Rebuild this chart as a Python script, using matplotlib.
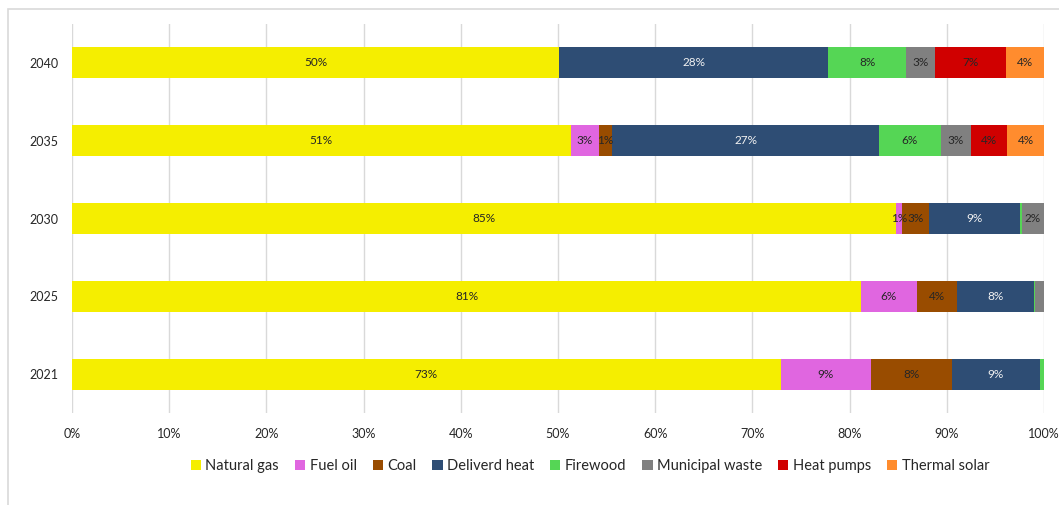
import matplotlib
matplotlib.use("Agg")
import matplotlib.pyplot as plt
from matplotlib.patches import Patch, Rectangle
import numpy as np

plt.rcParams['font.family'] = ['Lato', 'DejaVu Sans']

years = ["2021", "2025", "2030", "2035", "2040"]
series = ["Natural gas", "Fuel oil", "Coal", "Deliverd heat", "Firewood",
          "Municipal waste", "Heat pumps", "Thermal solar"]
colors = ["#F5EE00", "#E066E0", "#994C00", "#2E4D74", "#55D655",
          "#808080", "#D00000", "#FF8C2E"]

# shares in % per year (2021, 2025, 2030, 2035, 2040)
natural_gas = [72.9, 81.2, 84.8, 51.3, 50.1]
fuel_oil = [9.3, 5.7, 0.6, 2.9, 0.0]
coal = [8.3, 4.2, 2.8, 1.4, 0.0]
delivered_heat = [9.1, 7.9, 9.3, 27.4, 27.7]
firewood = [0.4, 0.1, 0.2, 6.4, 8.0]
municipal_waste = [0.0, 0.9, 2.3, 3.1, 3.0]
heat_pumps = [0.0, 0.0, 0.0, 3.7, 7.3]
thermal_solar = [0.0, 0.0, 0.0, 3.8, 3.9]

data = [natural_gas, fuel_oil, coal, delivered_heat, firewood,
        municipal_waste, heat_pumps, thermal_solar]
# labels not shown in the reference
hidden = {("2025", "Municipal waste")}

fig = plt.figure(figsize=(10.59, 5.05), dpi=100)
ax = fig.add_axes([72/1059, (505-413)/505, (1044-72)/1059, (413-24)/505])

y = np.arange(len(years))
left = np.zeros(len(years))
for name, vals, col in zip(series, data, colors):
    vals = np.array(vals, dtype=float)
    ax.barh(y, vals, left=left, height=0.4, color=col, label=name, zorder=3)
    for i, v in enumerate(vals):
        if v >= 0.5 and (years[i], name) not in hidden:
            tc = "#F2F2F2" if name == "Deliverd heat" else "#262626"
            ax.text(left[i] + v / 2, y[i], f"{v:.0f}%", ha="center", va="center",
                    fontsize=8.5, color=tc, zorder=4)
    left += vals

ax.set_xlim(0, 100)
ax.set_ylim(-0.5, 4.5)
ax.set_yticks(y)
ax.set_yticklabels(years, fontsize=9, color="#262626")
ax.set_xticks(np.arange(0, 101, 10))
ax.set_xticklabels([f"{t}%" for t in range(0, 101, 10)], fontsize=9, color="#262626")
ax.tick_params(length=0, pad=10)
ax.tick_params(axis="x", pad=11)
ax.grid(axis="x", color="#D9D9D9", linewidth=1, zorder=0)
for s in ax.spines.values():
    s.set_visible(False)

handles = [Patch(facecolor=c, label=n) for n, c in zip(series, colors)]
fig.legend(handles=handles, loc="center", bbox_to_anchor=(590/1059, 1 - 466/505),
           ncol=8, frameon=False, fontsize=10.5, handlelength=0.7, handleheight=0.7,
           handletextpad=0.3, columnspacing=1.1, labelcolor="#262626")

fig.patches.append(Rectangle((8/1059, -0.1), 1.2, 1 - 8.5/505 + 0.1, transform=fig.transFigure,
                             fill=False, edgecolor="#D9D9D9", linewidth=1.2, clip_on=False))

fig.savefig("out.png", dpi=100)
